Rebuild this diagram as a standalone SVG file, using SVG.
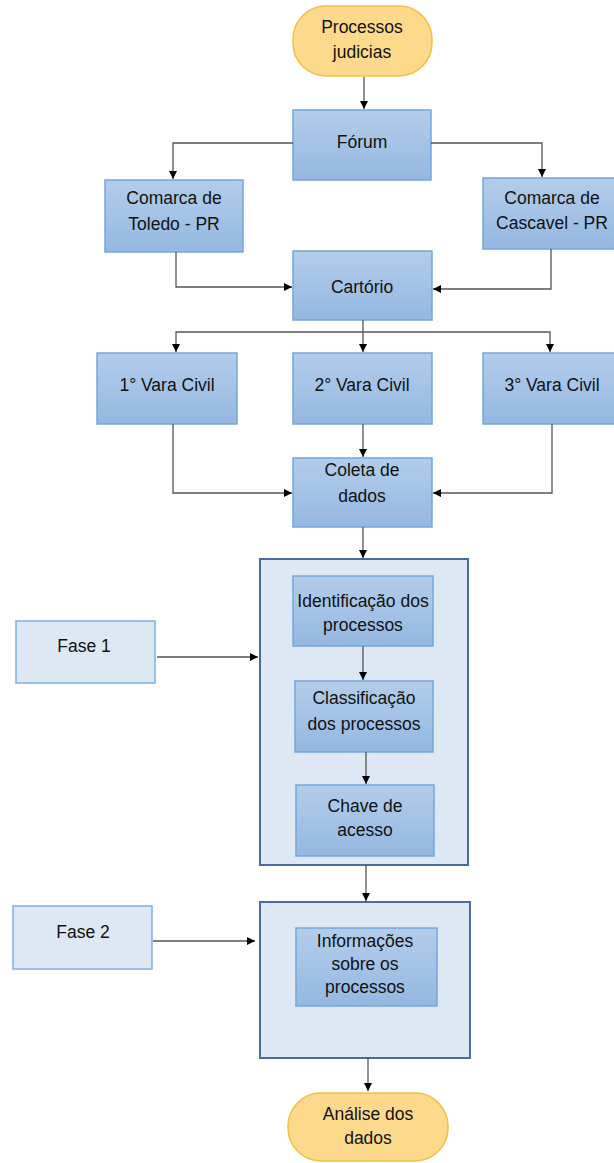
<svg xmlns="http://www.w3.org/2000/svg" width="614" height="1163" viewBox="0 0 614 1163">
<style>
text{font-family:"Liberation Sans",Arial,sans-serif;font-size:17.5px;fill:#111;text-anchor:middle}
.b{fill:url(#gb);stroke:#74a6dc;stroke-width:1.5}
.c{fill:#dde8f4;stroke:#4a6aa6;stroke-width:2}
.f{fill:#dde8f4;stroke:#7fb1e2;stroke-width:1.5}
.p{fill:#fdd98c;stroke:#f3bf45;stroke-width:1.5}
.l{fill:none;stroke:#555;stroke-width:1.3;marker-end:url(#ah)}
</style>
<defs>
<linearGradient id="gb" x1="0" y1="0" x2="0" y2="1"><stop offset="0" stop-color="#b3cdea"/><stop offset="1" stop-color="#94b8e1"/></linearGradient>
<marker id="ah" viewBox="0 0 10 10" refX="10" refY="5" markerWidth="8" markerHeight="8" orient="auto" markerUnits="userSpaceOnUse"><path d="M0,0 L10,5 L0,10 z" fill="#000"/></marker>
</defs>
<rect width="614" height="1163" fill="#fff"/>
<g id="n-processos"><rect class="p" x="293" y="6" width="139" height="70" rx="33"/><text x="362" y="33">Processos</text><text x="362" y="58">judicias</text></g>
<g id="n-forum"><rect class="b" x="293" y="110" width="138" height="70"/><text x="362" y="148">Fórum</text></g>
<g id="n-toledo"><rect class="b" x="105" y="180" width="138" height="72"/><text x="174" y="204">Comarca de</text><text x="174" y="230">Toledo - PR</text></g>
<g id="n-cascavel"><rect class="b" x="483" y="178" width="140" height="71"/><text x="552" y="204">Comarca de</text><text x="552" y="229">Cascavel - PR</text></g>
<g id="n-cartorio"><rect class="b" x="293" y="251" width="139" height="69"/><text x="362" y="293">Cartório</text></g>
<g id="n-vara1"><rect class="b" x="97" y="353" width="140" height="71"/><text x="167" y="391">1° Vara Civil</text></g>
<g id="n-vara2"><rect class="b" x="293" y="353" width="139" height="71"/><text x="362" y="391">2° Vara Civil</text></g>
<g id="n-vara3"><rect class="b" x="483" y="353" width="140" height="71"/><text x="552" y="391">3° Vara Civil</text></g>
<g id="n-coleta"><rect class="b" x="293" y="458" width="139" height="69"/><text x="362" y="476">Coleta de</text><text x="362" y="502">dados</text></g>
<g id="n-fase1-container"><rect class="c" x="260" y="559" width="208" height="306"/></g>
<g id="n-identificacao"><rect class="b" x="293" y="576" width="140" height="70"/><text x="363" y="607">Identificação dos</text><text x="363" y="631">processos</text></g>
<g id="n-classificacao"><rect class="b" x="295" y="681" width="138" height="71"/><text x="364" y="704">Classificação</text><text x="364" y="730">dos processos</text></g>
<g id="n-chave"><rect class="b" x="296" y="785" width="138" height="71"/><text x="365" y="812">Chave de</text><text x="365" y="836">acesso</text></g>
<g id="n-fase1"><rect class="f" x="16" y="621" width="139" height="62"/><text x="84" y="652">Fase 1</text></g>
<g id="n-fase2-container"><rect class="c" x="260" y="902" width="210" height="156"/></g>
<g id="n-informacoes"><rect class="b" x="296" y="928" width="141" height="78"/><text x="365" y="947">Informações</text><text x="365" y="970">sobre os</text><text x="365" y="993">processos</text></g>
<g id="n-fase2"><rect class="f" x="13" y="906" width="139" height="63"/><text x="83" y="938">Fase 2</text></g>
<g id="n-analise"><rect class="p" x="288" y="1093" width="160" height="68" rx="33"/><text x="368" y="1120">Análise dos</text><text x="368" y="1144">dados</text></g>
<g id="connectors">
<path class="l" d="M364,77 V109"/>
<path class="l" d="M293,143 H173 V179"/>
<path class="l" d="M431,143 H542 V177"/>
<path class="l" d="M176,252 V287 H292"/>
<path class="l" d="M551,249 V289 H433"/>
<path class="l" d="M363,320 V352"/>
<path class="l" d="M363,332 H176 V352"/>
<path class="l" d="M363,332 H550 V352"/>
<path class="l" d="M363,424 V457"/>
<path class="l" d="M173,424 V493 H292"/>
<path class="l" d="M552,424 V493 H433"/>
<path class="l" d="M363,527 V558"/>
<path class="l" d="M157,657 H258"/>
<path class="l" d="M363,646 V680"/>
<path class="l" d="M366,752 V784"/>
<path class="l" d="M366,865 V901"/>
<path class="l" d="M153,941 H255"/>
<path class="l" d="M368,1058 V1091"/>
</g>
</svg>
